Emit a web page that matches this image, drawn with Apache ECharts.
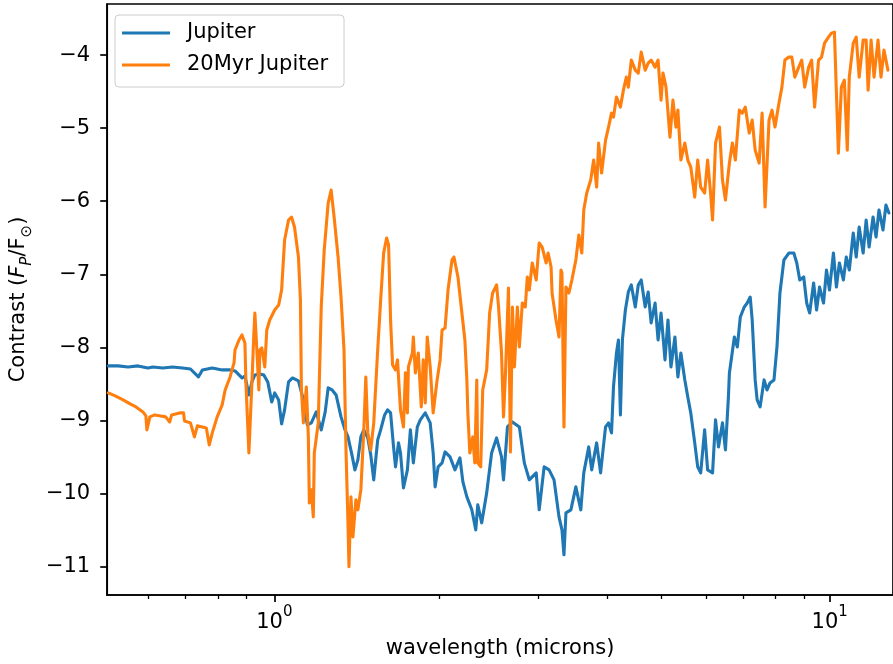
<!DOCTYPE html>
<html>
<head>
<meta charset="utf-8">
<title>Contrast spectra</title>
<script src="https://cdn.jsdelivr.net/npm/echarts@6/dist/echarts.min.js"></script>
<style>
  html, body { margin: 0; padding: 0; background: #fff; }
  #chart { width: 893px; height: 664px; }
</style>
</head>
<body>
<div id="chart"></div>
<script>
// Planet/star contrast (log10) against wavelength in microns.
const jupiterWavelength = [0.5022,0.5232,0.5452,0.5681,0.5918,0.6041,0.6294,0.6558,0.6833,0.7061,
  0.7207,0.7297,0.7418,0.7729,0.8053,0.8322,0.8494,0.8635,0.8742,0.8850,
  0.8997,0.9110,0.9223,0.9414,0.9570,0.9729,0.9890,1.0013,1.0179,1.0304,
  1.0432,1.0605,1.0780,1.1049,1.1278,1.1465,1.1655,1.1897,1.2144,1.2345,
  1.2498,1.2705,1.2916,1.3183,1.3401,1.3568,1.3793,1.3964,1.4137,1.4312,
  1.4489,1.4730,1.4912,1.5097,1.5347,1.5537,1.5794,1.5990,1.6189,1.6390,
  1.6525,1.6730,1.6867,1.7076,1.7359,1.7575,1.7793,1.8088,1.8312,1.8692,
  1.9079,1.9316,1.9475,1.9717,2.0044,2.0293,2.0713,2.1143,2.1582,2.1850,
  2.2212,2.2673,2.3048,2.3239,2.3623,2.4114,2.4613,2.5124,2.5646,2.5857,
  2.6286,2.6832,2.7614,2.8187,2.8772,2.9612,2.9979,3.0601,3.1236,3.1884,
  3.2546,3.2949,3.3222,3.3496,3.4191,3.4901,3.5625,3.6067,3.6814,3.7271,
  3.8044,3.8674,3.9154,3.9477,3.9967,4.0463,4.0797,4.1303,4.1643,4.1987,
  4.2333,4.2858,4.3389,4.3927,4.4655,4.5209,4.5770,4.6528,4.7104,4.7688,
  4.8479,4.9080,4.9689,5.0512,5.1138,5.1772,5.2630,5.3282,5.3943,5.4837,
  5.5517,5.6205,5.7137,5.7845,5.8562,5.9533,6.0271,6.1522,6.2285,6.3057,
  6.4102,6.4897,6.5702,6.5972,6.7341,6.8176,6.9021,7.0165,7.1035,7.1916,
  7.2510,7.3409,7.4014,7.4932,7.6174,7.7118,7.8074,7.9368,8.0352,8.1348,
  8.2697,8.4412,8.6164,8.7232,8.8314,8.9777,9.0890,9.2017,9.3542,9.4702,
  9.5876,9.7465,9.8673,9.9897,10.155,10.281,10.409,10.581,10.712,10.845,
  11.025,11.161,11.299,11.487,11.630,11.774,11.969,12.117,12.267,12.471,
  12.626,12.782];

const jupiterContrast = [-8.254,-8.254,-8.268,-8.254,-8.282,-8.268,-8.282,-8.268,-8.282,-8.296,
  -8.364,-8.405,-8.309,-8.282,-8.309,-8.309,-8.323,-8.378,-8.419,-8.391,
  -8.651,-8.473,-8.378,-8.364,-8.378,-8.473,-8.747,-8.624,-8.720,-9.048,
  -8.856,-8.473,-8.419,-8.460,-8.720,-9.062,-9.034,-8.884,-9.130,-8.884,
  -8.555,-8.583,-8.651,-8.952,-9.130,-9.226,-9.472,-9.677,-9.540,-9.226,
  -9.130,-9.239,-9.472,-9.814,-9.267,-9.130,-8.925,-8.856,-8.897,-9.363,
  -9.636,-9.308,-9.445,-9.923,-9.677,-9.130,-9.581,-9.089,-8.993,-8.897,
  -9.034,-9.445,-9.910,-9.636,-9.581,-9.431,-9.500,-9.677,-9.513,-9.841,
  -10.047,-10.224,-10.498,-10.156,-10.402,-9.992,-9.445,-9.239,-9.500,-9.814,
  -9.089,-9.021,-9.089,-9.581,-9.814,-9.718,-10.224,-9.636,-9.677,-9.814,
  -10.320,-10.498,-10.840,-10.265,-10.224,-9.910,-10.224,-9.718,-9.363,-9.677,
  -9.308,-9.718,-9.335,-9.089,-9.034,-9.171,-8.542,-8.077,-7.899,-8.925,
  -7.899,-7.489,-7.242,-7.146,-7.447,-7.146,-7.078,-7.447,-7.242,-7.666,
  -7.393,-7.899,-7.530,-8.172,-7.625,-8.268,-7.858,-8.405,-8.077,-8.446,
  -8.679,-8.897,-9.308,-9.636,-9.718,-9.130,-9.677,-9.718,-8.993,-9.363,
  -9.034,-9.404,-8.679,-8.350,-7.858,-7.995,-7.584,-7.447,-7.393,-7.311,
  -7.625,-8.446,-8.720,-8.815,-8.446,-8.583,-8.487,-8.446,-7.995,-7.256,
  -6.804,-6.709,-6.709,-6.845,-7.078,-7.037,-7.393,-7.530,-7.119,-7.489,
  -7.174,-7.393,-6.941,-7.215,-6.709,-7.174,-6.845,-7.078,-6.763,-6.941,
  -6.435,-6.763,-6.353,-6.709,-6.257,-6.627,-6.216,-6.490,-6.120,-6.394,
  -6.052,-6.161];

const youngWavelength = [0.5022,0.5168,0.5341,0.5497,0.5634,0.5798,0.5870,0.5894,0.5967,0.6091,
  0.6243,0.6372,0.6478,0.6531,0.6749,0.6861,0.6889,0.7061,0.7178,0.7267,
  0.7418,0.7541,0.7634,0.7729,0.7889,0.8053,0.8153,0.8322,0.8459,0.8494,
  0.8635,0.8742,0.8850,0.8887,0.8997,0.9110,0.9185,0.9223,0.9299,0.9376,
  0.9414,0.9492,0.9610,0.9689,0.9809,1.0013,1.0179,1.0304,1.0432,1.0605,
  1.0736,1.0869,1.1049,1.1140,1.1186,1.1278,1.1418,1.1512,1.1560,1.1655,
  1.1751,1.1800,1.1995,1.2144,1.2295,1.2498,1.2653,1.2810,1.3022,1.3183,
  1.3347,1.3457,1.3568,1.3624,1.3736,1.3849,1.4021,1.4137,1.4312,1.4489,
  1.4609,1.4730,1.4912,1.5097,1.5347,1.5537,1.5730,1.5925,1.6056,1.6189,
  1.6323,1.6525,1.6661,1.6867,1.7076,1.7217,1.7359,1.7431,1.7720,1.7793,
  1.7940,1.8162,1.8387,1.8539,1.8692,1.8846,1.9079,1.9316,1.9636,1.9880,
  2.0044,2.0293,2.0544,2.0884,2.1056,2.1405,2.1760,2.2030,2.2212,2.2303,
  2.2487,2.2766,2.2954,2.3143,2.3239,2.3527,2.3721,2.4114,2.4412,2.4715,
  2.5124,2.5332,2.5646,2.5857,2.6071,2.6394,2.6612,2.6832,2.7053,2.7389,
  2.7614,2.7956,2.8303,2.8537,2.8772,2.9129,2.9612,2.9979,3.0351,3.0854,
  3.1108,3.1494,3.1623,3.2147,3.2546,3.2815,3.2949,3.3222,3.3496,3.3911,
  3.4331,3.4901,3.5333,3.5771,3.6067,3.6514,3.7118,3.7578,3.8044,3.8358,
  3.8834,3.9477,3.9967,4.0463,4.0797,4.1303,4.1987,4.2508,4.3035,4.3389,
  4.3927,4.4655,4.5209,4.5770,4.6528,4.7104,4.7688,4.8479,4.9080,4.9689,
  5.0099,5.0720,5.1560,5.2200,5.2847,5.3282,5.3943,5.4837,5.5517,5.6205,
  5.7137,5.7845,5.8562,5.9533,6.0271,6.1019,6.1522,6.2285,6.3316,6.4102,
  6.4897,6.5972,6.6790,6.7619,6.8738,6.9591,7.0454,7.1621,7.2510,7.3409,
  7.4625,7.5551,7.6488,7.7754,7.8719,7.9695,8.1015,8.2020,8.3037,8.4412,
  8.5459,8.6519,8.7952,8.9043,9.0147,9.1640,9.2777,9.3928,9.5483,9.6668,
  9.7867,9.9487,10.072,10.197,10.366,10.494,10.625,10.756,10.845,11.025,
  11.161,11.299,11.487,11.630,11.726,11.871,12.019,12.217,12.369,12.522,
  12.730];

const youngContrast = [-8.624,-8.665,-8.720,-8.774,-8.815,-8.884,-8.939,-9.130,-8.952,-8.925,
  -8.939,-8.952,-9.021,-8.925,-8.897,-8.897,-9.007,-9.034,-9.226,-9.075,
  -9.089,-9.103,-9.335,-9.171,-8.952,-8.788,-8.583,-8.405,-8.213,-8.036,
  -7.899,-7.830,-7.940,-8.487,-9.445,-8.487,-7.803,-7.530,-8.036,-8.583,
  -8.036,-8.008,-8.268,-7.762,-7.625,-7.489,-7.420,-7.215,-6.531,-6.257,
  -6.216,-6.353,-6.763,-7.352,-8.583,-9.034,-8.542,-9.226,-10.129,-9.951,
  -10.320,-9.445,-9.034,-7.447,-6.668,-6.025,-5.847,-6.216,-6.763,-7.311,
  -8.036,-9.404,-10.402,-11.004,-10.047,-10.594,-10.088,-10.224,-9.951,-9.130,
  -8.405,-9.171,-9.404,-9.034,-8.036,-7.352,-6.709,-6.503,-6.599,-7.625,
  -8.241,-8.309,-8.172,-8.856,-9.089,-8.350,-8.897,-8.268,-8.077,-7.858,
  -8.350,-8.077,-8.815,-8.172,-8.761,-7.858,-8.268,-8.897,-8.446,-8.172,
  -7.762,-7.735,-7.215,-6.804,-6.763,-7.037,-7.530,-7.899,-8.446,-8.897,
  -9.445,-9.226,-9.581,-8.446,-9.581,-9.636,-8.583,-8.309,-7.530,-7.256,
  -7.146,-7.447,-8.077,-8.952,-8.350,-7.187,-9.431,-7.447,-8.268,-7.447,
  -7.995,-7.393,-7.447,-7.037,-7.215,-6.845,-7.078,-6.572,-6.627,-6.845,
  -6.709,-6.900,-7.256,-7.625,-7.858,-6.941,-6.982,-9.089,-7.174,-7.256,
  -7.078,-6.804,-6.462,-6.709,-6.120,-5.888,-5.710,-5.436,-5.806,-5.204,
  -5.614,-5.163,-4.985,-4.794,-4.848,-4.575,-4.711,-4.479,-4.301,-4.438,
  -4.068,-4.205,-4.246,-3.959,-4.205,-4.109,-4.068,-4.164,-4.068,-4.616,
  -4.246,-4.438,-5.122,-4.616,-4.985,-4.753,-5.436,-5.204,-5.436,-5.532,
  -5.943,-5.436,-5.806,-5.888,-5.436,-5.888,-6.257,-5.204,-4.985,-5.710,
  -5.984,-5.477,-5.204,-5.436,-4.753,-4.794,-4.711,-5.067,-4.889,-5.300,
  -5.477,-4.794,-6.079,-4.889,-4.753,-4.985,-4.657,-4.438,-4.068,-4.027,
  -4.027,-4.301,-4.164,-4.068,-4.438,-4.164,-4.068,-4.711,-4.068,-4.027,
  -3.836,-3.754,-3.699,-3.685,-5.341,-4.438,-4.342,-5.300,-4.301,-3.836,
  -3.754,-4.301,-3.795,-3.795,-4.479,-3.795,-4.301,-3.795,-4.301,-3.932,
  -4.205];

const seriesNames = ['Jupiter', '20Myr Jupiter'];
const xMajorTicks = [1, 10];
const xMinorTicks = [0.6, 0.7, 0.8, 0.9, 2, 3, 4, 5, 6, 7, 8, 9];
const yTicks = [-11, -10, -9, -8, -7, -6, -5, -4];

const FONT = 'DejaVu Sans';
const BLACK = '#000000';

function pairs(xs, ys) {
  return xs.map((x, i) => [x, ys[i]]);
}

const chart = echarts.init(document.getElementById('chart'), null, { renderer: 'canvas' });

const gridBox = { left: 104, top: 4, width: 793, height: 591 };

chart.setOption({
  animation: false,
  backgroundColor: '#ffffff',
  textStyle: { fontFamily: FONT, color: BLACK },
  grid: [
    Object.assign({ show: true, borderColor: BLACK, borderWidth: 1.7, backgroundColor: 'transparent' }, gridBox),
    Object.assign({ show: false }, gridBox)
  ],
  legend: {
    orient: 'vertical',
    left: 115,
    top: 15,
    padding: [6, 16, 10, 7],
    itemWidth: 48,
    itemHeight: 3,
    itemGap: 8,
    icon: 'rect',
    backgroundColor: 'rgba(255,255,255,0.8)',
    borderColor: '#cccccc',
    borderWidth: 1,
    borderRadius: 4,
    textStyle: { fontFamily: FONT, fontSize: 21, color: BLACK, lineHeight: 24, padding: [0, 0, 0, 12] },
    data: seriesNames
  },
  xAxis: [
    {
      type: 'log',
      logBase: 10,
      gridIndex: 0,
      min: 0.5,
      max: 13,
      name: 'wavelength (microns)',
      nameLocation: 'middle',
      nameGap: 40,
      nameTextStyle: { fontFamily: FONT, fontSize: 21, color: BLACK },
      axisLine: { show: true, lineStyle: { color: BLACK, width: 1.7 } },
      axisTick: { show: true, length: 7, customValues: xMajorTicks, lineStyle: { color: BLACK, width: 1.7 } },
      axisLabel: {
        customValues: xMajorTicks,
        margin: 10,
        formatter: function (v) {
          return '{b|10}{e|' + Math.round(Math.log10(v)) + '}';
        },
        rich: {
          b: { fontFamily: FONT, fontSize: 21, color: BLACK, lineHeight: 28, verticalAlign: 'bottom' },
          e: { fontFamily: FONT, fontSize: 15, color: BLACK, lineHeight: 14, verticalAlign: 'top' }
        }
      },
      splitLine: { show: false },
      minorTick: { show: false }
    },
    {
      type: 'log',
      logBase: 10,
      gridIndex: 1,
      min: 0.5,
      max: 13,
      axisLine: { show: false },
      axisTick: { show: true, length: 4, customValues: xMinorTicks, lineStyle: { color: BLACK, width: 1.3 } },
      axisLabel: { show: false },
      splitLine: { show: false }
    }
  ],
  yAxis: [
    {
      type: 'value',
      gridIndex: 0,
      min: -11.39,
      max: -3.30,
      name: '{n|Contrast (}{i|F}{is|P}{n|/F}{s|\u2299}{n|)}',
      nameLocation: 'middle',
      nameRotate: 90,
      nameGap: 70,
      nameTextStyle: {
        fontFamily: FONT,
        fontSize: 21,
        color: BLACK,
        rich: {
          n: { fontFamily: FONT, fontSize: 21, color: BLACK, lineHeight: 24, verticalAlign: 'top' },
          i: { fontFamily: FONT, fontSize: 21, fontStyle: 'italic', color: BLACK, lineHeight: 24, verticalAlign: 'top' },
          is: { fontFamily: FONT, fontSize: 15, fontStyle: 'italic', color: BLACK, lineHeight: 14, padding: [12, 0, 0, 0], verticalAlign: 'top' },
          s: { fontFamily: FONT, fontSize: 15, color: BLACK, lineHeight: 14, padding: [12, 0, 0, 0], verticalAlign: 'top' }
        }
      },
      axisLine: { show: true, lineStyle: { color: BLACK, width: 1.7 } },
      axisTick: { show: true, length: 7, customValues: yTicks, lineStyle: { color: BLACK, width: 1.7 } },
      axisLabel: {
        customValues: yTicks,
        margin: 17,
        fontFamily: FONT,
        fontSize: 21,
        color: BLACK,
        formatter: function (v) {
          return v < 0 ? '\u2212' + Math.abs(v) : String(v);
        }
      },
      splitLine: { show: false }
    },
    { type: 'value', gridIndex: 1, min: -11.39, max: -3.30, show: false }
  ],
  series: [
    {
      name: seriesNames[0],
      type: 'line',
      xAxisIndex: 0,
      yAxisIndex: 0,
      data: pairs(jupiterWavelength, jupiterContrast),
      showSymbol: false,
      symbol: 'none',
      lineStyle: { color: '#1f77b4', width: 3.1, join: 'round', cap: 'round' },
      itemStyle: { color: '#1f77b4' },
      z: 2
    },
    {
      name: seriesNames[1],
      type: 'line',
      xAxisIndex: 0,
      yAxisIndex: 0,
      data: pairs(youngWavelength, youngContrast),
      showSymbol: false,
      symbol: 'none',
      lineStyle: { color: '#ff7f0e', width: 3.1, join: 'round', cap: 'round' },
      itemStyle: { color: '#ff7f0e' },
      z: 3
    }
  ]
});
</script>
</body>
</html>
